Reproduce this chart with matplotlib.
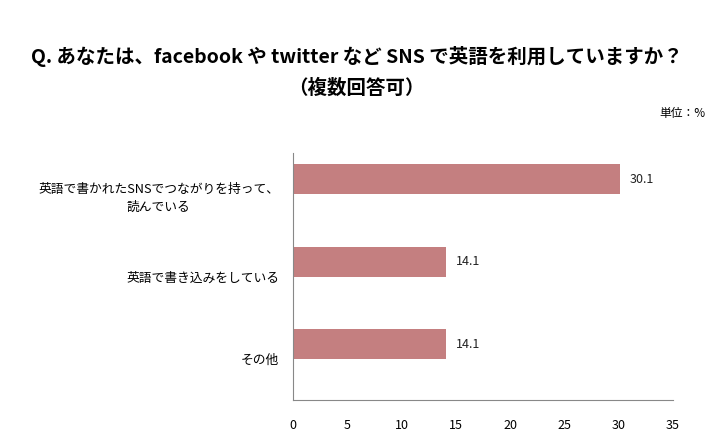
import matplotlib
matplotlib.use("Agg")
import matplotlib.pyplot as plt

plt.rcParams['font.family'] = ['Noto Sans CJK JP', 'DejaVu Sans']

categories = ['英語で書かれたSNSでつながりを持って、\n読んでいる', '英語で書き込みをしている', 'その他']
values = [30.1, 14.1, 14.1]
xticks = [0, 5, 10, 15, 20, 25, 30, 35]

fig = plt.figure(figsize=(7.13, 4.45), dpi=100)
ax = fig.add_axes([0.411, 0.101, 0.533, 0.555])

ypos = list(range(len(categories)))
# bars sit in the upper part of each category slot
shift = 0.18
bar_y = [y - shift for y in ypos]
ax.barh(bar_y, values, height=0.365, color='#c47f80')
for y, v in zip(bar_y, values):
    ax.text(v + 0.9, y, f'{v:.1f}', va='center', ha='left', fontsize=9, color='#222222')

ax.set_ylim(2.5, -0.5)
ax.set_xlim(0, 35)
ax.set_yticks(ypos)
ax.set_yticklabels(categories, fontsize=9.2, ha='right', multialignment='center', linespacing=1.5)
ax.tick_params(axis='y', length=0, pad=10)
ax.set_xticks(xticks)
ax.set_xticklabels([str(t) for t in xticks], fontsize=9)
ax.tick_params(axis='x', length=0, pad=14)

for s in ['top', 'right']:
    ax.spines[s].set_visible(False)
ax.spines['left'].set_color('#888888')
ax.spines['bottom'].set_color('#888888')

fig.text(0.5, 0.872, 'Q. あなたは、facebook や twitter など SNS で英語を利用していますか？',
         ha='center', va='center', fontsize=14, fontweight='bold')
fig.text(0.5, 0.802, '（複数回答可）', ha='center', va='center', fontsize=14, fontweight='bold')
fig.text(0.99, 0.745, '単位：%', ha='right', va='center', fontsize=8.5)

fig.savefig('out.png', dpi=100)
